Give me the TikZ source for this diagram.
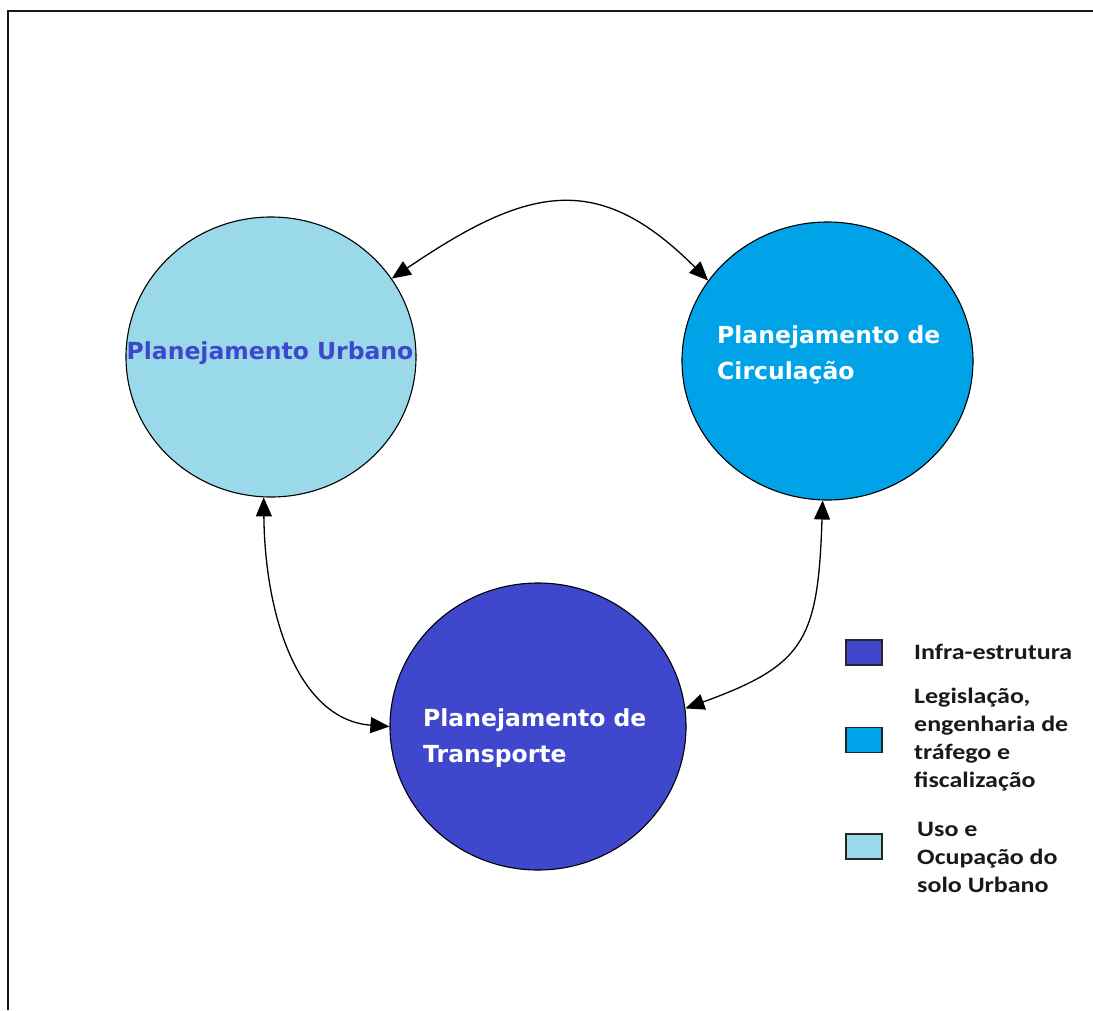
\documentclass[tikz,border=0pt]{standalone}
\usepackage{fontspec}
\usetikzlibrary{shapes.geometric,arrows.meta}
\newfontfamily\circfont{DejaVu Sans}
\newfontfamily\legendfont{Carlito}[FakeStretch=1.18]
\definecolor{lightturq}{RGB}{153,217,234}
\definecolor{turq}{RGB}{0,162,232}
\definecolor{paintindigo}{RGB}{63,72,204}
\definecolor{framegray}{RGB}{25,25,25}

\begin{document}
\begin{tikzpicture}[x=1pt,y=-1pt,
  bubble/.style={ellipse, draw=black, line width=1.1pt, inner sep=0pt},
  bubbletext/.style={inner sep=0pt, align=left, font=\circfont\bfseries\fontsize{23.5}{36}\selectfont},
  swatch/.style={draw=black!85, line width=1.3pt, minimum width=36pt, minimum height=25pt, inner sep=0pt},
  legendtext/.style={inner sep=0pt, anchor=west, align=left, text=black!90,
    font=\legendfont\bfseries\fontsize{22}{28}\selectfont},
  link/.style={line width=1.3pt, {Triangle[length=19pt,width=16pt]}-{Triangle[length=19pt,width=16pt]}},
  border/.style={draw=framegray, line width=2pt}]

\useasboundingbox (0,0) rectangle (1093,1010);
\fill[white] (0,0) rectangle (1093,1010);

% frame edges (top and left only)
\draw[border] (8,1010) -- (8,11) -- (1093,11);

% the three planning domains
\node[bubble, fill=lightturq, minimum width=290pt, minimum height=280pt] (urb) at (271,357) {};
\node[bubble, fill=turq, minimum width=291pt, minimum height=278pt] (circ) at (827.5,361) {};
\node[bubble, fill=paintindigo, minimum width=296pt, minimum height=287pt] (trans) at (538,726.5) {};

\node[bubbletext, text=paintindigo] (urbtxt) at (270,353) {Planejamento Urbano};
\node[bubbletext, text=white, anchor=west] (circtxt) at (717,354.5) {Planejamento de\\Circulação};
\node[bubbletext, text=white, anchor=west] (transtxt) at (423,738.5) {Planejamento de\\Transporte};

% two-way relations between the domains
\draw[link] (urb.33) .. controls (528,186) and (598,170) .. (circ.146);
\draw[link] (urb.-93.6) .. controls (265,620) and (300,720) .. (trans.180);
\draw[link] (circ.-92) .. controls (818,640) and (805,665) .. (trans.7.5);

% legend
\node[swatch, fill=paintindigo] (keyinfra) at (864,652.5) {};
\node[swatch, fill=turq] (keylegis) at (864,740) {};
\node[swatch, fill=lightturq] (keyuso) at (864,846.5) {};

\node[legendtext] (lblinfra) at (914,652) {Infra-estrutura};
\node[legendtext] (lbllegis) at (914,740) {Legislação,\\engenharia de\\tráfego e\\fiscalização};
\node[legendtext] (lbluso) at (917,857) {Uso e\\Ocupação do\\solo Urbano};

\end{tikzpicture}
\end{document}
